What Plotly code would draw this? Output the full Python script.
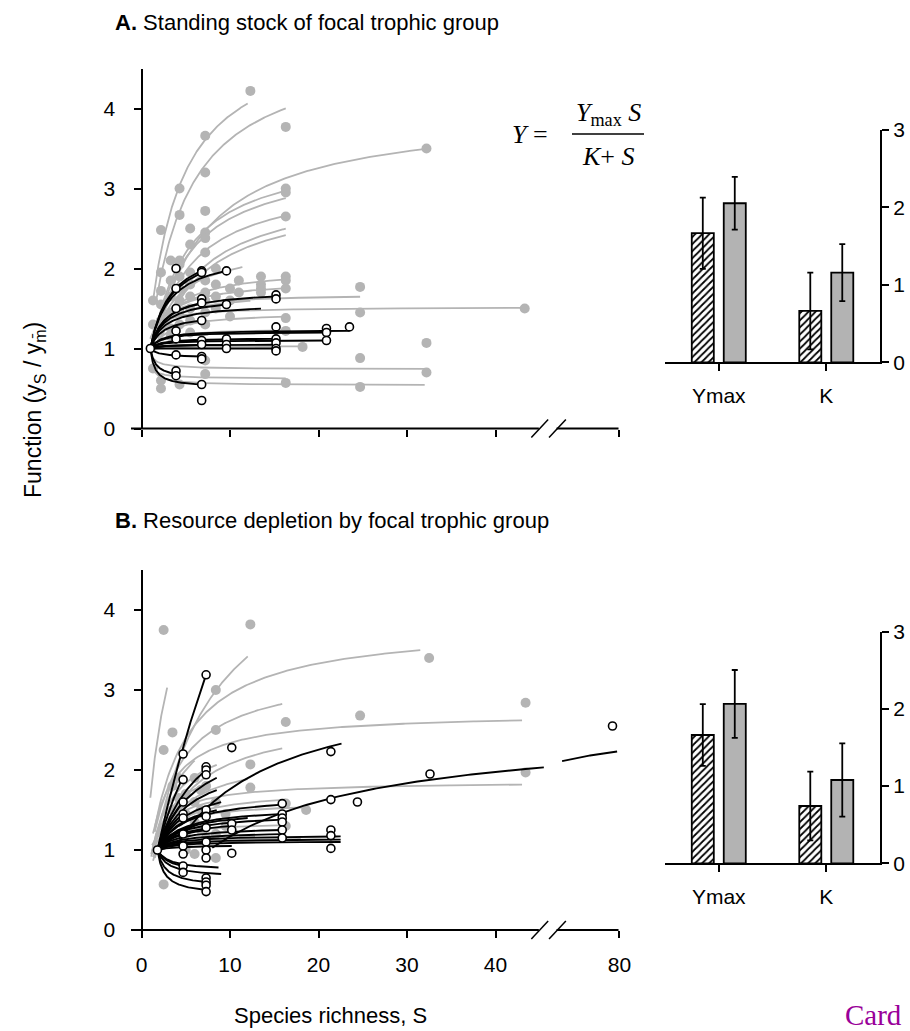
import numpy as np
import plotly.graph_objects as go

W, H = 910, 1031
FONT = "Liberation Sans, Arial, sans-serif"
SERIF = "Liberation Serif, Times New Roman, serif"
GREY = "#b4b4b4"

# ---------------- Panel A: standing stock ----------------
# Michaelis-Menten fits, Y = Ymax*S/(K+S), drawn over [S0, S1]
A_gray_ymax = [5.00, 4.82, 3.97, 3.52, 3.41, 3.15, 3.05, 2.95, 2.30, 1.68, 1.52, 0.74, 0.54,
               2.00, 1.85, 1.45, 1.25, 1.03, 1.70, 1.90, 2.60, 0.62]
A_gray_k = [2.77, 3.33, 4.37, 3.0, 3.0, 3.0, 3.6, 3.6, 1.6, 0.5, 0.35, -0.2, -0.35,
            1.2, 0.9, 0.6, 0.3, 0.05, 0.8, 1.0, 2.5, -0.2]
A_gray_s0 = [1.3, 1.6, 2.0, 1.8, 1.8, 2.0, 2.0, 2.2, 2.0, 1.0, 1.0, 1.2, 1.5,
             1.5, 1.5, 1.2, 1.0, 1.0, 1.5, 1.3, 1.5, 1.3]
A_gray_s1 = [12.0, 16.3, 32.6, 16.3, 16.3, 16.3, 16.3, 16.3, 11.4, 24.7, 43.3, 32.5, 32.0,
             16.3, 16.3, 16.3, 16.3, 18.2, 12.3, 7.2, 7.2, 16.3]

A_black_ymax = [2.37, 2.32, 2.22, 1.73, 1.56, 1.74, 1.437, 1.656, 1.13, 1.212, 1.232, 1.106,
                1.05, 1.05, 1.05, 0.51, 0.885, 0.612, 1.0, 1.119]
A_black_k = [1.37, 1.32, 1.22, 0.73, 0.56, 0.74, 0.437, 0.656, 0.13, 0.212, 0.232, 0.106,
             0.05, 0.05, 0.05, -0.49, -0.115, -0.388, 0.0, 0.119]
A_black_s0 = [1.0] * 20
A_black_s1 = [6.8, 6.8, 9.6, 15.2, 13.5, 6.8, 6.8, 9.6, 15.2, 20.9, 23.5, 20.9,
              15.2, 9.6, 6.8, 6.8, 6.8, 3.9, 15.2, 6.8]

# observations grouped by species richness
A_gray_rich = [1.3, 2.2, 3.3, 4.3, 5.5, 7.2, 8.4, 10.0, 11.0, 12.3, 13.5, 16.3, 18.2,
               24.7, 32.2, 43.3]
A_gray_obs = [
    [1.60, 1.30, 0.75],
    [2.48, 1.95, 1.72, 1.55, 1.35, 0.60, 0.50],
    [2.10, 1.85, 1.65, 1.45, 1.25, 1.15],
    [3.00, 2.67, 2.10, 2.05, 1.90, 1.75, 1.60, 1.45, 1.30, 0.55],
    [2.50, 2.30, 1.95, 1.80, 1.65, 1.50, 1.35, 1.20],
    [3.66, 3.20, 2.72, 2.45, 2.38, 2.20, 1.85, 1.70, 1.60, 1.45, 1.30, 0.85, 0.68],
    [2.00, 1.80, 1.65, 1.50],
    [1.75, 1.60, 1.40],
    [1.85, 1.70],
    [4.22],
    [1.90, 1.80, 1.75, 1.70],
    [3.77, 3.00, 2.95, 2.65, 1.90, 1.85, 1.75, 1.38, 1.22, 0.57],
    [1.02],
    [1.77, 1.45, 0.88, 0.52],
    [3.50, 1.07, 0.70],
    [1.50],
]
A_black_rich = [1.0, 3.9, 6.8, 9.6, 15.2, 20.9, 23.5]
A_black_obs = [
    [1.00],
    [2.00, 1.75, 1.50, 1.22, 1.12, 0.92, 0.72, 0.66],
    [1.97, 1.95, 1.62, 1.57, 1.35, 1.10, 1.05, 0.90, 0.87, 0.55, 0.35],
    [1.97, 1.55, 1.12, 1.05, 1.00],
    [1.67, 1.62, 1.27, 1.12, 1.07, 1.00, 0.97],
    [1.25, 1.20, 1.10],
    [1.27],
]

# ---------------- Panel B: resource depletion ----------------
B_gray_ymax = [5.39, 5.13, 3.83, 3.27, 2.72, 2.70, 1.86, 2.20, 1.75, 1.60, 1.35, 1.15, 3.00,
               2.50, 2.20, 1.80, 1.50]
B_gray_k = [2.26, 6.0, 2.98, 2.5, 1.63, 3.0, 1.0, 2.0, 1.2, 0.8, 0.5, 0.2, 2.5, 1.8,
            1.5, 1.0, 0.5]
B_gray_s0 = [1.0, 1.5, 1.5, 1.5, 1.3, 1.5, 1.3, 1.3, 1.3, 1.2, 1.2, 1.2, 1.1, 1.1,
             1.2, 1.2, 1.2]
B_gray_s1 = [2.9, 12.0, 31.5, 15.9, 43.0, 15.9, 43.0, 12.0, 16.3, 18.6, 16.3, 18.0, 6.0,
             8.5, 7.3, 8.4, 6.0]

B_black_ymax = [11.26, 3.13, 2.57, 2.97, 2.51, 2.19, 1.69, 1.54, 1.45, 1.1875, 1.143, 1.11,
                0.53, 0.43, 0.651, 0.738, 1.39, 1.506, 1.73, 1.23, 1.061, 1.36,
                4.49, 2.55, 2.01, 1.70, 1.137, 1.49, 1.88, 0.712, 1.37, 1.291]
B_black_k = [18.46, 7.76, 12.0, 3.55, 2.71, 2.14, 1.25, 0.968, 0.81, 0.3375, 0.257, 0.197,
             -0.845, -1.027, -0.628, -0.472, 0.70, 0.911, 1.32, 0.417, 0.11, 0.65,
             6.29, 2.79, 1.82, 1.26, 0.247, 0.885, 1.59, -0.519, 0.666, 0.524]
B_black_s0 = [1.8, 4.0, 8.0] + [1.8] * 29
B_black_s1 = [7.3, 22.6, 79.0, 7.3, 8.5, 8.5, 15.9, 16.0, 16.0, 22.5, 22.5, 22.5,
              7.3, 7.3, 9.0, 8.7, 10.2, 12.0, 8.5, 15.9, 10.2, 7.3,
              4.7, 4.7, 4.7, 7.3, 7.3, 6.0, 9.0, 4.7, 4.7, 15.9]

B_gray_rich = [2.5, 3.5, 4.2, 5.0, 6.0, 6.7, 7.3, 8.4, 9.5, 12.3, 16.3, 18.6, 24.7, 32.5,
               43.4]
B_gray_obs = [
    [3.75, 2.25, 0.57],
    [2.47, 1.80, 1.50, 1.30, 1.10],
    [1.90, 1.65, 1.35, 1.15],
    [1.70, 1.45, 1.20, 1.00],
    [1.90, 1.60, 1.35, 0.95],
    [1.75, 1.50, 1.25],
    [1.80, 1.45, 1.15],
    [3.00, 2.50, 1.60, 1.20, 0.90],
    [1.45, 1.30],
    [3.82, 2.07, 1.78],
    [2.60, 1.58, 1.30],
    [1.50],
    [2.68],
    [3.40],
    [2.84, 1.97],
]
B_black_rich = [1.8, 4.7, 7.3, 10.2, 15.9, 21.4, 24.4, 32.6, 77.0]
B_black_obs = [
    [1.00],
    [2.20, 1.88, 1.60, 1.45, 1.40, 1.20, 1.05, 0.95, 0.80, 0.72],
    [3.19, 2.04, 2.00, 1.94, 1.50, 1.42, 1.28, 1.10, 1.00, 0.90, 0.65, 0.60, 0.56, 0.48],
    [2.28, 1.33, 1.25, 0.96],
    [1.58, 1.45, 1.40, 1.35, 1.25, 1.15],
    [2.23, 1.63, 1.25, 1.18, 1.02],
    [1.60],
    [1.95],
    [2.55],
]

# ---------------- Fitted parameters (bar insets) ----------------
params = ["Ymax", "K"]
A_hatch_mean = [1.667, 0.663]
A_hatch_err = [0.46, 0.495]
A_solid_mean = [2.054, 1.158]
A_solid_err = [0.34, 0.367]
B_hatch_mean = [1.662, 0.742]
B_hatch_err = [0.40, 0.445]
B_solid_mean = [2.064, 1.079]
B_solid_err = [0.44, 0.475]

rich_ticks = [0, 10, 20, 30, 40, 80]
func_ticks = [0, 1, 2, 3, 4]
par_ticks = [0, 1, 2, 3]


# broken richness axis: linear up to 45, compressed segment from 55 to 80
def axis_pos(s):
    s = np.asarray(s, dtype=float)
    out = np.where(s <= 45.5, s, 47.5 + (s - 55.0) * 0.26)
    return np.where((s > 45.5) & (s < 55.0), np.nan, out)


def curves(ymax, k, s0, s1, color, width, xa, ya):
    xs, ys = [], []
    for a, b, c, d in zip(ymax, k, s0, s1):
        s = np.linspace(c, d, 200)
        y = a * s / (b + s)
        for p, v in zip(axis_pos(s), y):
            if np.isnan(p):
                xs.append(None)
                ys.append(None)
            else:
                xs.append(float(p))
                ys.append(float(v))
        xs.append(None)
        ys.append(None)
    return go.Scatter(x=xs, y=ys, mode="lines", line=dict(color=color, width=width),
                      xaxis=xa, yaxis=ya, hoverinfo="skip", showlegend=False,
                      connectgaps=False)


def points(rich, obs, xa, ya, filled):
    xs = [float(axis_pos([s])[0]) for s, vals in zip(rich, obs) for _ in vals]
    ys = [v for vals in obs for v in vals]
    if filled:
        marker = dict(size=10, color=GREY, line=dict(width=0))
    else:
        marker = dict(size=8, color="white", line=dict(color="black", width=1.6))
    return go.Scatter(x=xs, y=ys, mode="markers", marker=marker, xaxis=xa, yaxis=ya,
                      hoverinfo="skip", showlegend=False, cliponaxis=False)


fig = go.Figure()

for (gy, gk, g0, g1, by, bk, b0, b1, grich, gobs, brich, bobs, xa, ya) in [
    (A_gray_ymax, A_gray_k, A_gray_s0, A_gray_s1, A_black_ymax, A_black_k, A_black_s0,
     A_black_s1, A_gray_rich, A_gray_obs, A_black_rich, A_black_obs, "x", "y"),
    (B_gray_ymax, B_gray_k, B_gray_s0, B_gray_s1, B_black_ymax, B_black_k, B_black_s0,
     B_black_s1, B_gray_rich, B_gray_obs, B_black_rich, B_black_obs, "x3", "y3"),
]:
    fig.add_trace(curves(gy, gk, g0, g1, GREY, 1.8, xa, ya))
    fig.add_trace(points(grich, gobs, xa, ya, True))
    fig.add_trace(curves(by, bk, b0, b1, "black", 1.9, xa, ya))
    fig.add_trace(points(brich, bobs, xa, ya, False))

# bar insets: hatched and solid grey bars with SE whiskers
for hm, he, sm, se, xa, ya in [
    (A_hatch_mean, A_hatch_err, A_solid_mean, A_solid_err, "x2", "y2"),
    (B_hatch_mean, B_hatch_err, B_solid_mean, B_solid_err, "x4", "y4"),
]:
    fig.add_trace(go.Bar(
        x=params, y=hm, width=0.205, offset=-0.251, xaxis=xa, yaxis=ya,
        marker=dict(color="white", line=dict(color="black", width=1.8),
                    pattern=dict(shape="/", fgcolor="black", bgcolor="white",
                                 size=5, solidity=0.35, fillmode="replace")),
        error_y=dict(type="data", array=he, color="black", thickness=1.8, width=3),
        showlegend=False, hoverinfo="skip"))
    fig.add_trace(go.Bar(
        x=params, y=sm, width=0.205, offset=0.0465, xaxis=xa, yaxis=ya,
        marker=dict(color="#b3b3b3", line=dict(color="black", width=1.8)),
        error_y=dict(type="data", array=se, color="black", thickness=1.8, width=3),
        showlegend=False, hoverinfo="skip"))


def px_x(x):
    return x / W


def px_y(y):
    return 1 - y / H


tickfont = dict(family=FONT, size=21, color="black")
x_lo, x_hi = (131 - 141.5) / 8.85, (625 - 141.5) / 8.85
rich_pos = [float(axis_pos([t])[0]) for t in rich_ticks]

common_x = dict(range=[x_lo, x_hi], domain=[px_x(131), px_x(625)], showline=False,
                showgrid=False, zeroline=False, ticks="outside", ticklen=7, tickwidth=2,
                tickcolor="black", tickvals=rich_pos, ticktext=[str(t) for t in rich_ticks],
                tickfont=tickfont, ticklabelstandoff=9, automargin=False)
common_y = dict(range=[0, 4.5], showline=True, linewidth=2, linecolor="black",
                showgrid=False, zeroline=False, ticks="outside", ticklen=7, tickwidth=2,
                tickcolor="black", tickvals=func_ticks, tickfont=tickfont,
                anchor="free", position=px_x(141.5), ticklabelstandoff=14, automargin=False)
bar_x = dict(type="category", range=[-0.5, 1.5], domain=[px_x(665), px_x(880)],
             showline=True, linewidth=2, linecolor="black", showgrid=False,
             ticks="outside", ticklen=7, tickwidth=2, tickcolor="black",
             tickfont=tickfont, ticklabelstandoff=6, automargin=False)
bar_y = dict(range=[0, 3], side="right", showline=True, linewidth=2, linecolor="black",
             showgrid=False, zeroline=False, ticks="outside", ticklen=7, tickwidth=2,
             tickcolor="black", tickvals=par_ticks, tickfont=tickfont, automargin=False)

fig.update_layout(
    width=W, height=H, autosize=False,
    margin=dict(l=0, r=0, t=0, b=0, autoexpand=False),
    paper_bgcolor="white", plot_bgcolor="rgba(0,0,0,0)",
    font=dict(family=FONT, color="black"),
    xaxis=dict(common_x, anchor="y", showticklabels=False),
    yaxis=dict(common_y, domain=[px_y(428.5), px_y(68.5)]),
    xaxis3=dict(common_x, anchor="y3", showticklabels=True),
    yaxis3=dict(common_y, domain=[px_y(930), px_y(570)]),
    xaxis2=dict(bar_x, anchor="y2"),
    yaxis2=dict(bar_y, anchor="x2", domain=[px_y(362.3), px_y(130)]),
    xaxis4=dict(bar_x, anchor="y4"),
    yaxis4=dict(bar_y, anchor="x4", domain=[px_y(863.3), px_y(631.7)]),
)

# broken richness axis line with // marks
shapes = []
for xa, ya, dom_h in [("x", "y", 360.0), ("x3", "y3", 360.0)]:
    yref = ya + " domain"
    shapes.append(dict(type="line", xref=xa, yref=yref, x0=x_lo, x1=44.9, y0=0, y1=0,
                       line=dict(color="black", width=2)))
    shapes.append(dict(type="line", xref=xa, yref=yref, x0=46.9, x1=53.9, y0=0, y1=0,
                       line=dict(color="black", width=2)))
    for c in (45.0, 47.0):
        shapes.append(dict(type="line", xref=xa, yref=yref, x0=c - 0.95, x1=c + 0.95,
                           y0=-9 / dom_h, y1=9 / dom_h, line=dict(color="black", width=1.5)))

# fraction bar of the model equation
shapes.append(dict(type="line", xref="paper", yref="paper", x0=px_x(572), x1=px_x(644),
                   y0=px_y(134), y1=px_y(134), line=dict(color="black", width=1.5)))

annotations = [
    dict(x=px_x(113), y=px_y(22), text="<b>A.</b> Standing stock of focal trophic group",
         xanchor="left", yanchor="middle", font=dict(size=22)),
    dict(x=px_x(113), y=px_y(520), text="<b>B.</b> Resource depletion by focal trophic group",
         xanchor="left", yanchor="middle", font=dict(size=22)),
    dict(x=px_x(35), y=px_y(410), text="Function (y<sub>S</sub> / y<sub>m̄</sub>)",
         textangle=-90, xanchor="center", yanchor="middle", font=dict(size=23)),
    dict(x=px_x(330), y=px_y(1015), text="Species richness, S",
         xanchor="center", yanchor="middle", font=dict(size=22)),
    dict(x=px_x(550), y=px_y(135), text="<i>Y</i> =", xanchor="right", yanchor="middle",
         font=dict(family=SERIF, size=26)),
    dict(x=px_x(608), y=px_y(114), text="<i>Y</i><sub>max</sub> <i>S</i>", xanchor="center",
         yanchor="middle", font=dict(family=SERIF, size=26)),
    dict(x=px_x(608), y=px_y(156), text="<i>K</i>+ <i>S</i>", xanchor="center",
         yanchor="middle", font=dict(family=SERIF, size=26)),
    dict(x=px_x(843), y=px_y(1015), text="Card", xanchor="left", yanchor="middle",
         font=dict(family=SERIF, size=29, color="#990099")),
]
for a in annotations:
    a.update(xref="paper", yref="paper", showarrow=False)

fig.update_layout(shapes=shapes, annotations=annotations)
fig.write_html("out.html")
